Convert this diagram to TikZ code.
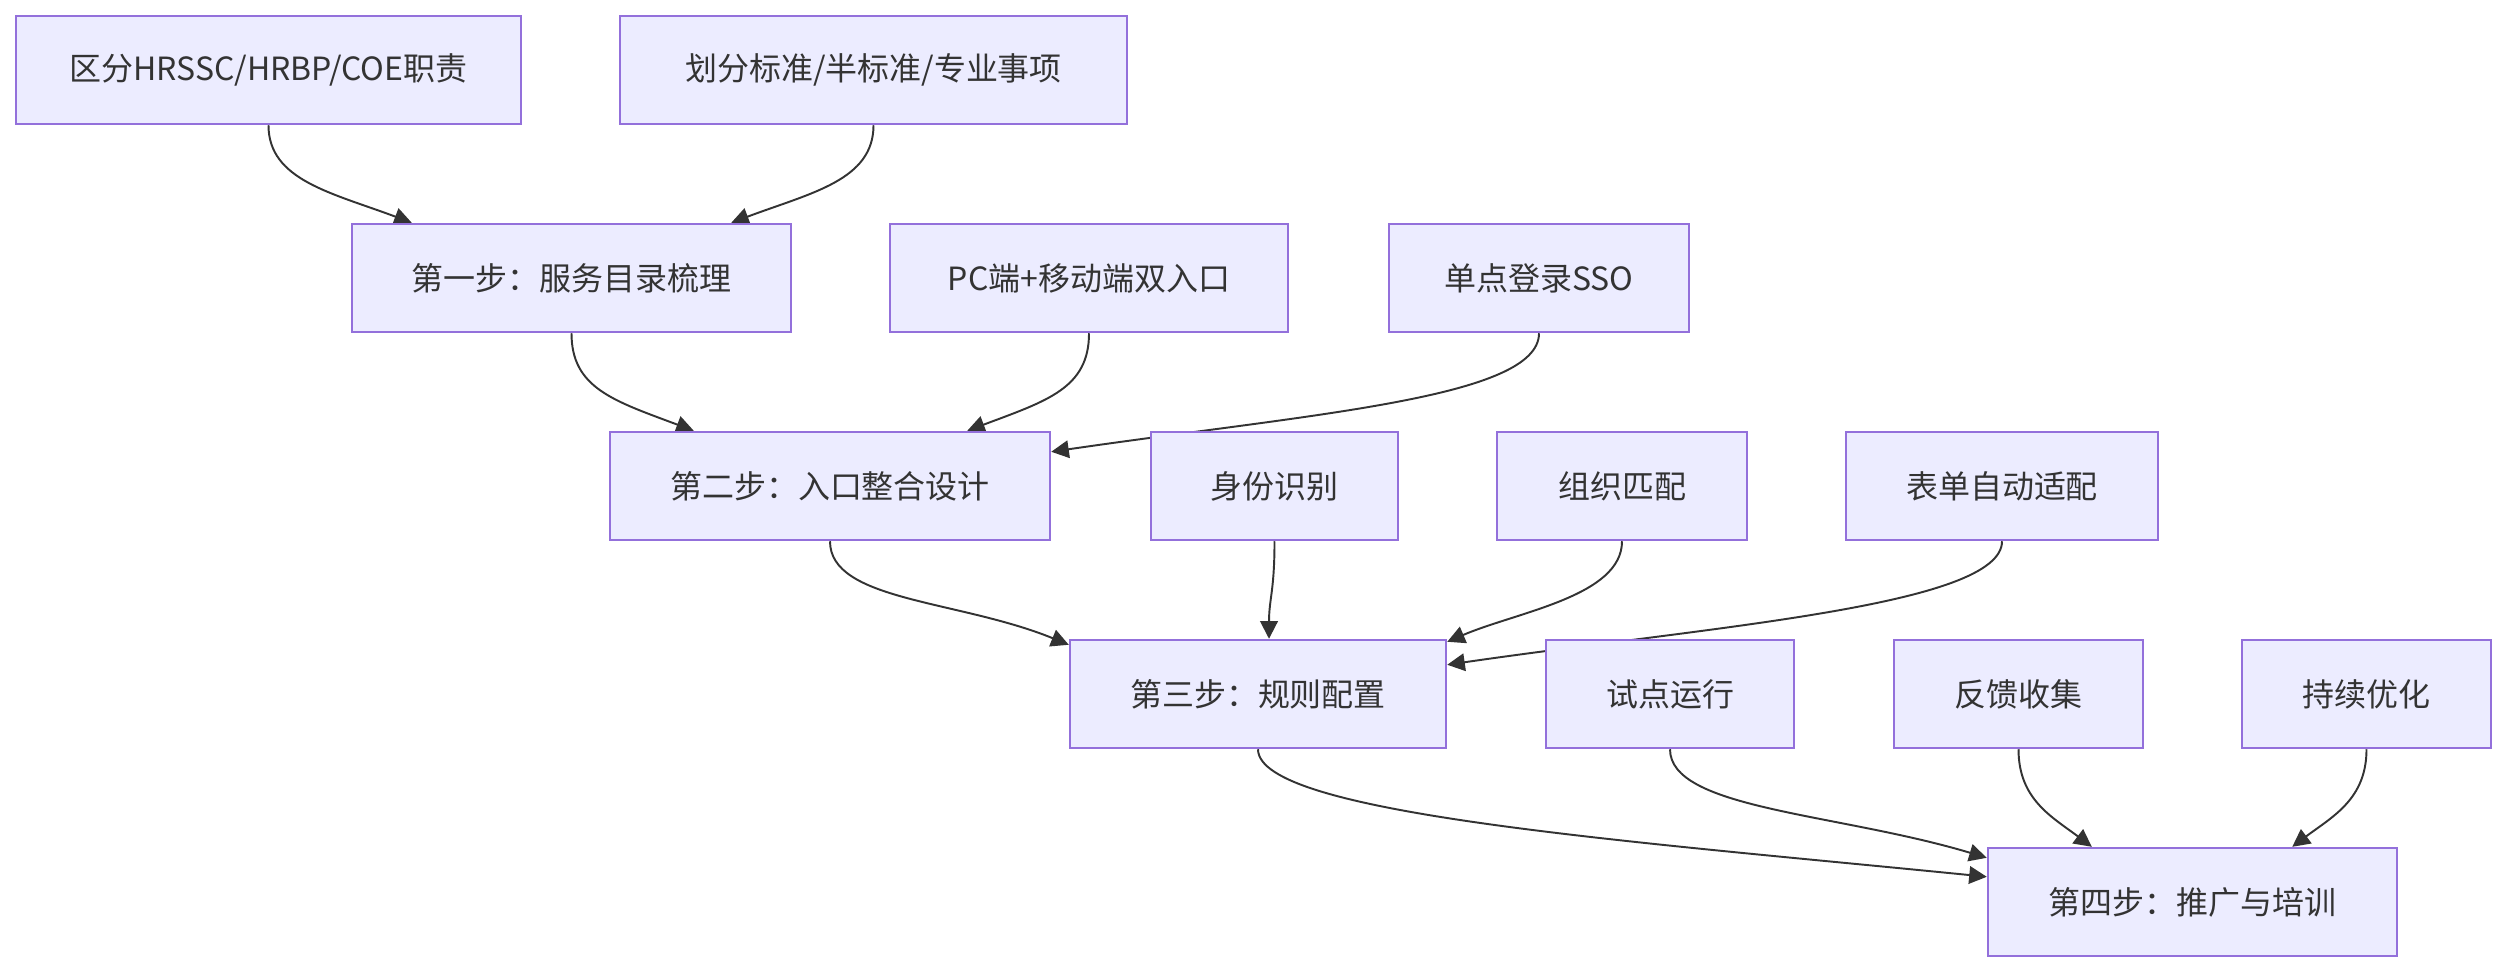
\documentclass[tikz,border=0pt]{standalone}
\usepackage{fontspec}
\setmainfont{Noto Sans CJK SC}
\usetikzlibrary{arrows.meta,calc}
\pgfdeclarelayer{bg}
\pgfsetlayers{bg,main}
\definecolor{boxfill}{HTML}{ECECFF}
\definecolor{boxline}{HTML}{9370DB}
\definecolor{ink}{HTML}{333333}
\begin{document}
\begin{tikzpicture}[x=1cm,y=1cm,
 box/.style={draw=boxline, fill=boxfill, line width=0.7pt, minimum height=1.08cm, inner sep=0pt, text=ink, font=\fontsize{9.1pt}{11pt}\selectfont},
 arr/.style={draw=ink, line width=0.55pt, -{Triangle[length=5pt,width=5pt]}}]
\useasboundingbox (0,0) rectangle (25.06,-9.72);
\node[box, minimum width=5.05cm] (A) at (2.685,-0.70) {区分HRSSC/HRBP/COE职责};
\node[box, minimum width=5.07cm] (B) at (8.735,-0.70) {划分标准/半标准/专业事项};
\node[box, minimum width=4.39cm] (S1) at (5.715,-2.78) {第一步：服务目录梳理};
\node[box, minimum width=3.98cm] (PC) at (10.89,-2.78) {PC端+移动端双入口};
\node[box, minimum width=3.00cm] (SSO) at (15.39,-2.78) {单点登录SSO};
\node[box, minimum width=4.40cm] (S2) at (8.30,-4.86) {第二步：入口整合设计};
\node[box, minimum width=2.47cm] (ID) at (12.745,-4.86) {身份识别};
\node[box, minimum width=2.50cm] (Org) at (16.22,-4.86) {组织匹配};
\node[box, minimum width=3.12cm] (Form) at (20.02,-4.86) {表单自动适配};
\node[box, minimum width=3.76cm] (S3) at (12.58,-6.94) {第三步：规则配置};
\node[box, minimum width=2.48cm] (Pilot) at (16.70,-6.94) {试点运行};
\node[box, minimum width=2.49cm] (Feed) at (20.185,-6.94) {反馈收集};
\node[box, minimum width=2.49cm] (Opt) at (23.665,-6.94) {持续优化};
\node[box, minimum width=4.09cm] (S4) at (21.925,-9.02) {第四步：推广与培训};
\begin{pgfonlayer}{bg}
\draw[arr] (A.south) .. controls +(0,-0.55) and +(-0.8,0.3) .. ($(S1.north west)+(0.61,0)$);
\draw[arr] (B.south) .. controls +(0,-0.55) and +(0.8,0.3) .. ($(S1.north east)+(-0.61,0)$);
\draw[arr] (S1.south) .. controls +(0,-0.55) and +(-0.8,0.3) .. ($(S2.north west)+(0.85,0)$);
\draw[arr] (PC.south) .. controls +(0,-0.55) and +(0.8,0.3) .. ($(S2.north east)+(-0.84,0)$);
\draw[arr] (SSO.south) .. controls +(0,-0.65) and +(2.6,0.38) .. ($(S2.north east)+(0,-0.21)$);
\draw[arr] (S2.south) .. controls +(0,-0.6) and +(-1.1,0.45) .. ($(S3.north west)+(0,-0.06)$);
\draw[arr] (ID.south) .. controls +(0,-0.5) and +(0,0.4) .. ($(S3.north)+(0.11,0)$);
\draw[arr] (Org.south) .. controls +(0,-0.55) and +(0.7,0.3) .. ($(S3.north east)+(0,-0.03)$);
\draw[arr] (Form.south) .. controls +(0,-0.65) and +(2.6,0.38) .. ($(S3.north east)+(0,-0.26)$);
\draw[arr] (S3.south) .. controls +(0,-0.65) and +(-3.6,0.36) .. ($(S4.north west)+(0,-0.30)$);
\draw[arr] (Pilot.south) .. controls +(0,-0.6) and +(-1.5,0.45) .. ($(S4.north west)+(0,-0.11)$);
\draw[arr] (Feed.south) .. controls +(0,-0.5) and +(-0.4,0.3) .. ($(S4.north west)+(1.05,0)$);
\draw[arr] (Opt.south) .. controls +(0,-0.5) and +(0.4,0.3) .. ($(S4.north east)+(-1.06,0)$);
\end{pgfonlayer}
\end{tikzpicture}
\end{document}
